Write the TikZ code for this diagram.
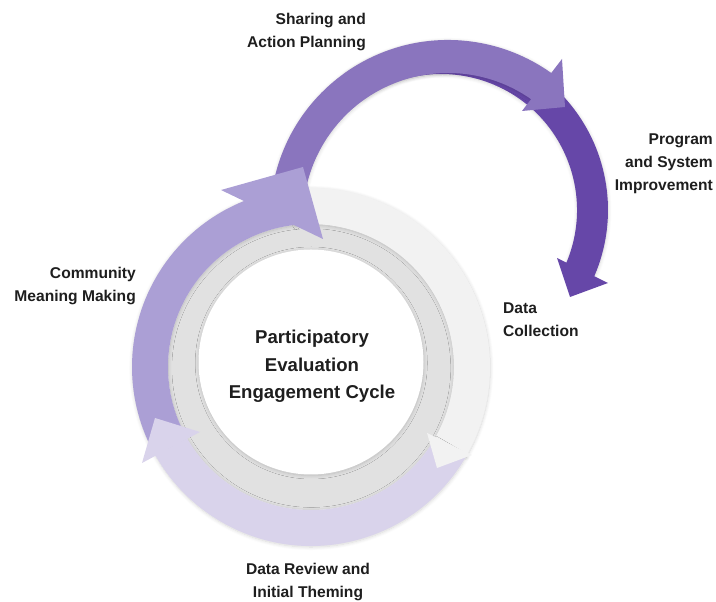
\documentclass[tikz,border=0pt]{standalone}
\usepackage{fontspec}
\setmainfont{Liberation Sans}
\usetikzlibrary{shadows.blur}

\definecolor{ringgray}{HTML}{E1E1E1}
\definecolor{bandgray}{HTML}{F2F2F2}
\definecolor{lavender}{HTML}{D9D3EB}
\definecolor{midpurple}{HTML}{AB9FD5}
\definecolor{arcpurple}{HTML}{8A75BE}
\definecolor{darkpurple}{HTML}{6647A8}
\definecolor{ink}{HTML}{1E1E1E}

\begin{document}
\begin{tikzpicture}[x=1pt,y=1pt,
  soft/.style={blur shadow={shadow xshift=0.3pt, shadow yshift=-1pt,
               shadow blur radius=3.5pt, shadow blur steps=12, shadow opacity=16}},
  lbl/.style={font=\bfseries\fontsize{15.6}{23}\selectfont, text=ink, inner sep=0pt},
  title/.style={font=\bfseries\fontsize{18.6}{27.5}\selectfont, text=ink,
                inner sep=0pt, align=center}]
\useasboundingbox (0,0) rectangle (716,602);

% centres of the three circles
\coordinate (C) at (311,235);   % lower cycle
\coordinate (W) at (311,240);   % white hub
\coordinate (L) at (448,384);   % upper light arc
\coordinate (D) at (441,392);   % upper dark arc

% hub: gray ring and white disc
\fill[ringgray] (C) circle (143);
\fill[white, soft] (W) circle (112.5);

% upper dark arc and its head
\fill[darkpurple, soft] ([shift={(125:167)}]D) arc[start angle=125, end angle=-25, radius=167]
  -- ([shift={(-25:136)}]D) arc[start angle=-25, end angle=125, radius=136] -- cycle;
\fill[darkpurple] (557,344) -- (570,305) -- (608,319) -- cycle;

% upper light arc and its head
\fill[arcpurple, soft] ([shift={(168:178)}]L) arc[start angle=168, end angle=52, radius=178]
  -- ([shift={(52:145)}]L) arc[start angle=52, end angle=168, radius=145] -- cycle;
\fill[arcpurple] (562,543) -- (565,495) -- (522,491) -- cycle;

% lower cycle bands
\fill[bandgray, soft] ([shift={(96:179)}]C) arc[start angle=96, end angle=-30, radius=179]
  -- ([shift={(-30:143)}]C) arc[start angle=-30, end angle=96, radius=143] -- cycle;
\fill[lavender, soft] ([shift={(-30:179)}]C) arc[start angle=-30, end angle=-152, radius=179]
  -- ([shift={(-152:143)}]C) arc[start angle=-152, end angle=-30, radius=143] -- cycle;
\fill[midpurple, soft] ([shift={(208:179)}]C) arc[start angle=208, end angle=96, radius=179]
  -- ([shift={(96:143)}]C) arc[start angle=96, end angle=208, radius=143] -- cycle;

% lower cycle heads
\fill[bandgray] (427,169) -- (437,134) -- (472,147) -- cycle;
\fill[lavender] (200,170) -- (155,184) -- (142,139) -- cycle;
\fill[midpurple] (221,412) -- (303,435) -- (323,363) -- cycle;

% labels
\node[title] (hub) at (312,235.5) {Participatory\\Evaluation\\Engagement Cycle};
\node[lbl, anchor=east, align=right] (share) at (366,569.5) {Sharing and\\Action Planning};
\node[lbl, anchor=east, align=right] (improve) at (713,438.5) {Program\\and System\\Improvement};
\node[lbl, anchor=east, align=right] (meaning) at (136,316) {Community\\Meaning Making};
\node[lbl, anchor=west, align=left] (collect) at (503,282.5) {Data\\Collection};
\node[lbl, align=center] (review) at (308,20) {Data Review and\\Initial Theming};
\end{tikzpicture}
\end{document}
